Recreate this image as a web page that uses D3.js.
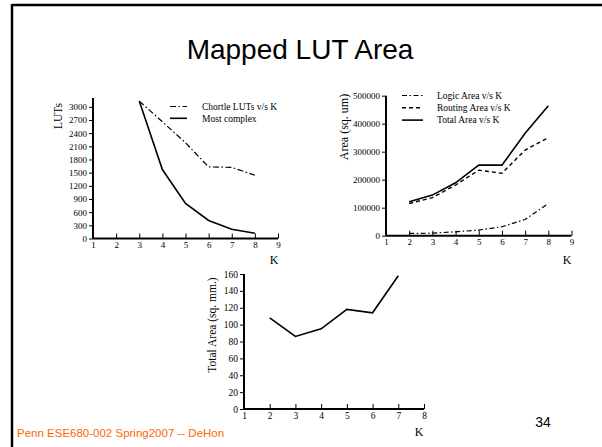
<!DOCTYPE html>
<html><head><meta charset="utf-8">
<script src="https://cdn.jsdelivr.net/npm/d3@7"></script>
<style>
body{margin:0;background:#fff;}
svg{display:block;}
.tk text{font-family:"Liberation Serif",serif;}
</style></head>
<body><svg id="c" width="602" height="447"></svg>
<script>
// ---- data ----
const kLUT = [3,4,5,6,7,8];
const chortleLUTs = [3130,2660,2180,1630,1620,1440];
const mostComplex = [3130,1570,800,410,210,120];
const lutTicks = [0,300,600,900,1200,1500,1800,2100,2400,2700,3000];

const kArea = [2,3,4,5,6,7,8];
const logicArea = [8000,9000,14000,20000,32000,58000,115000];
const routingArea = [115000,136000,181000,234000,223000,306000,350000];
const totalArea = [121000,145000,189000,252000,252000,366000,464000];
const areaTicks = [0,100000,200000,300000,400000,500000];

const kTot = [2,3,4,5,6,7];
const totalMM = [108,86,95,118,114,158];
const totTicks = [0,20,40,60,80,100,120,140,160];

const svg = d3.select("#c");
const serif = '"Liberation Serif", serif';
const sans = '"Liberation Sans", Arial, sans-serif';

// slide frame
svg.append("line").attr("x1",12).attr("x2",602).attr("y1",5).attr("y2",5).attr("stroke","#000").attr("stroke-width",2.5);
svg.append("line").attr("x1",12).attr("x2",12).attr("y1",4).attr("y2",447).attr("stroke","#000").attr("stroke-width",2.5);

svg.append("text").attr("x",300).attr("y",59).attr("text-anchor","middle")
  .attr("font-family",sans).attr("font-size",28).text("Mapped LUT Area");

function chart(o){
  const g = svg.append("g");
  const x = d3.scaleLinear().domain(o.xd).range(o.xr);
  const y = d3.scaleLinear().domain(o.yd).range(o.yr);
  const xa = g.append("g").attr("class","tk").attr("transform",`translate(0,${o.yr[0]})`)
    .call(d3.axisBottom(x).tickValues(d3.range(o.xd[0],o.xd[1]+1)).tickFormat(d3.format("d")).tickSizeInner(-5).tickSizeOuter(0).tickPadding(3));
  const ya = g.append("g").attr("class","tk").attr("transform",`translate(${o.xr[0]},0)`)
    .call(d3.axisLeft(y).tickValues(o.yt).tickFormat(d3.format("d")).tickSizeInner(4).tickSizeOuter(0).tickPadding(2));
  [xa,ya].forEach(a=>{
    a.select(".domain").attr("stroke-width",2);
    a.selectAll(".tick line").attr("stroke-width",1);
    a.selectAll("text").attr("font-size",o.tfs).attr("font-family",serif);
  });
  ya.select(".domain").attr("d",`M0,${o.yr[0]}V${y(o.yd[1])}`);
  xa.select(".domain").attr("d",`M${o.xr[0]},0H${o.xr[1]}`);
  const line = d3.line().x(d=>x(d[0])).y(d=>y(d[1]));
  o.series.forEach(s=>{
    g.append("path").datum(o.k.map((k,i)=>[k,s.v[i]]))
      .attr("d",line).attr("fill","none").attr("stroke","#000")
      .attr("stroke-width",s.w||1.5).attr("stroke-dasharray",s.dash||null);
  });
  if(o.leg){
    o.series.forEach((s,i)=>{
      const ly = o.leg.y + i*o.leg.dy;
      g.append("line").attr("x1",o.leg.x).attr("x2",o.leg.x+o.leg.len).attr("y1",ly).attr("y2",ly)
        .attr("stroke","#000").attr("stroke-width",s.w||1.5).attr("stroke-dasharray",s.dash||null);
      g.append("text").attr("x",o.leg.tx).attr("y",ly).attr("dy","0.35em")
        .attr("font-family",serif).attr("font-size",o.leg.fs).text(s.name);
    });
  }
  g.append("text").attr("transform",`translate(${o.yl.x},${o.yl.y}) rotate(-90)`)
    .attr("text-anchor","middle").attr("font-family",serif).attr("font-size",o.yl.fs).text(o.yl.t);
  g.append("text").attr("x",o.kl.x).attr("y",o.kl.y).attr("text-anchor","middle")
    .attr("font-family",serif).attr("font-size",12).text("K");
}

chart({
  xd:[1,9], xr:[93,278], yd:[0,3200], yr:[238.5,98], yt:lutTicks, tfs:9,
  k:kLUT,
  series:[
    {name:"Chortle LUTs v/s K", v:chortleLUTs, dash:"6,2.5,1.5,2.5", w:1.2},
    {name:"Most complex", v:mostComplex, w:1.6}
  ],
  leg:{x:170,len:17,y:106.5,dy:11.8,tx:202,fs:9.5},
  yl:{x:62,y:116,t:"LUTs",fs:11.5},
  kl:{x:274,y:264}
});

chart({
  xd:[1,9], xr:[386,571.5], yd:[0,500000], yr:[235.7,95.7], yt:areaTicks, tfs:9,
  k:kArea,
  series:[
    {name:"Logic Area v/s K", v:logicArea, dash:"5,2.5,1.5,2.5", w:1.2},
    {name:"Routing Area v/s K", v:routingArea, dash:"4,3", w:1.4},
    {name:"Total Area v/s K", v:totalArea, w:1.6}
  ],
  leg:{x:402,len:21,y:95.5,dy:12.3,tx:437,fs:9.5},
  yl:{x:348,y:127,t:"Area (sq. um)",fs:12},
  kl:{x:567,y:264}
});

chart({
  xd:[1,8], xr:[244,424], yd:[0,160], yr:[409,274], yt:totTicks, tfs:9.5,
  k:kTot,
  series:[{name:"Total", v:totalMM, w:1.6}],
  yl:{x:216,y:325,t:"Total Area (sq. mm.)",fs:11.5},
  kl:{x:419,y:436}
});

svg.append("text").attr("x",17).attr("y",437).attr("font-family",sans).attr("font-size",11.5)
  .attr("fill","#FF6600").text("Penn ESE680-002 Spring2007 -- DeHon");
svg.append("text").attr("x",543).attr("y",427).attr("text-anchor","middle").attr("font-family",sans)
  .attr("font-size",14).text("34");
</script></body></html>
